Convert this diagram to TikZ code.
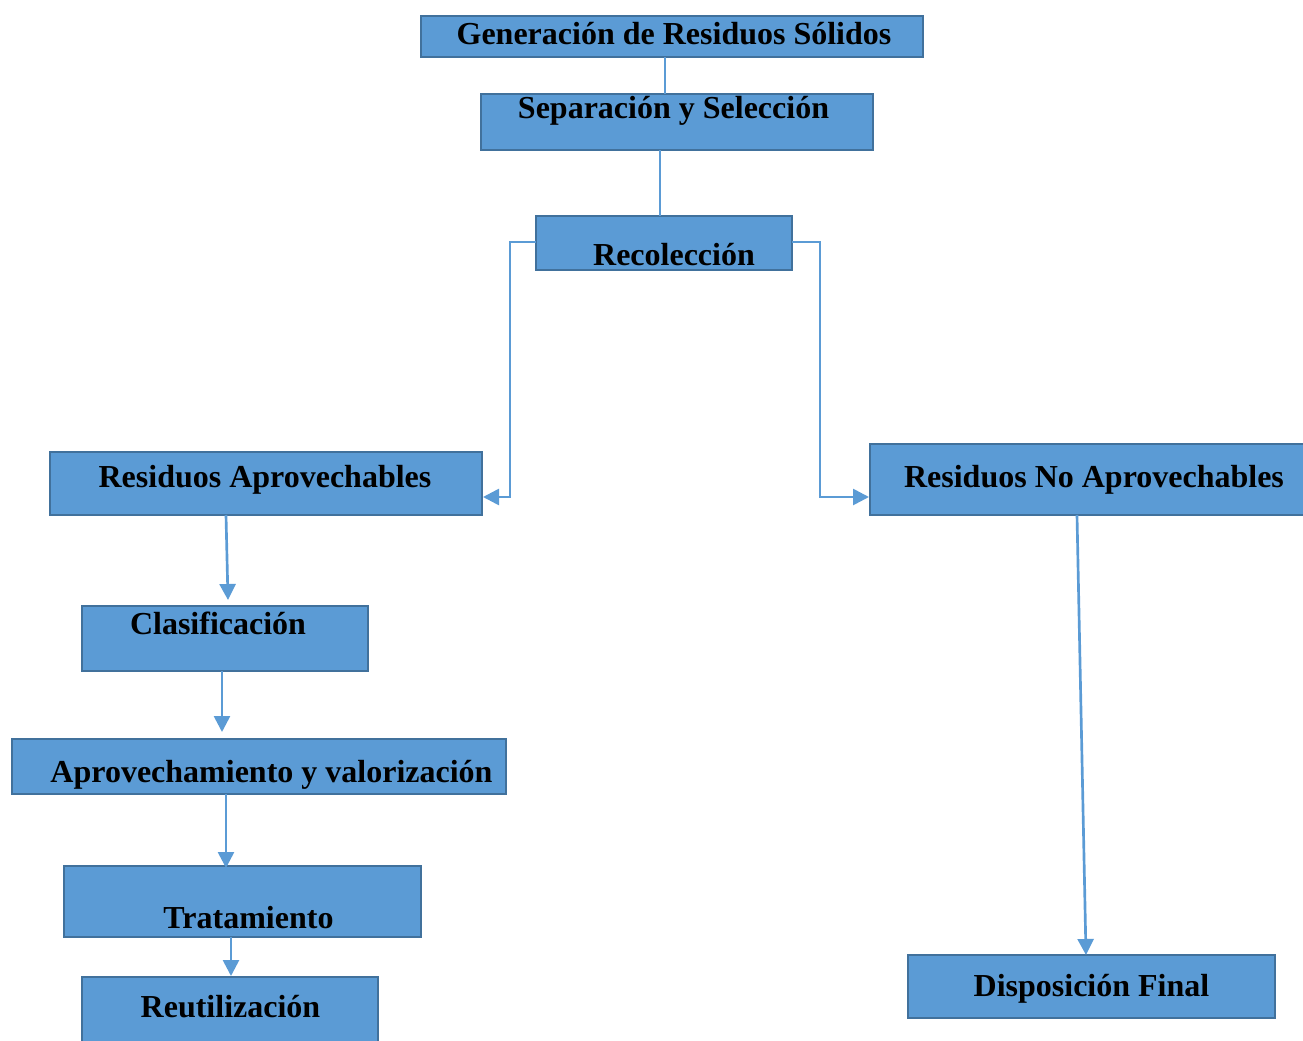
\documentclass[tikz,border=0pt]{standalone}
\usepackage{fontspec}
\setmainfont{Liberation Serif}
\usetikzlibrary{fit,arrows.meta}
\definecolor{boxfill}{HTML}{5B9BD5}
\definecolor{boxdraw}{HTML}{41719C}
\definecolor{linec}{HTML}{5B9BD5}
\tikzset{
  box/.style={draw=boxdraw, fill=boxfill, line width=1.5pt, inner sep=0pt, rectangle},
  txt/.style={anchor=base, inner sep=0pt, font=\fontsize{24pt}{28pt}\selectfont\bfseries},
  thin link/.style={draw=linec, line width=1pt},
  arrow link/.style={draw=linec, line width=2pt, -{Triangle[length=12pt,width=12pt]}},
}
\begin{document}
\begin{tikzpicture}[x=0.75pt,y=-0.75pt]
\useasboundingbox (0,0) rectangle (1303,1041);
% boxes
\node[box, fit={(421,16)(923,57)}] (gen) {};
\node[box, fit={(481,94)(873,150)}] (sep) {};
\node[box, fit={(536,216)(792,270)}] (rec) {};
\node[box, fit={(50,452)(482,515)}] (ra) {};
\node[box, fit={(870,444)(1310,515)}] (rna) {};
\node[box, fit={(82,606)(368,671)}] (cla) {};
\node[box, fit={(12,739)(506,794)}] (apr) {};
\node[box, fit={(64,866)(421,937)}] (tra) {};
\node[box, fit={(82,977)(378,1050)}] (reu) {};
\node[box, fit={(908,955)(1275,1018)}] (dis) {};
% texts
\node[txt] (genT) at (674,45) {Generación de Residuos Sólidos};
\node[txt] (sepT) at (673.5,119) {Separación y Selección};
\node[txt] (recT) at (674,266) {Recolección};
\node[txt] (raT) at (265,487) {Residuos Aprovechables};
\node[txt] (rnaT) at (1094,487) {Residuos No Aprovechables};
\node[txt] (claT) at (218,634) {Clasificación};
\node[txt] (aprT) at (271.5,782) {Aprovechamiento y valorización};
\node[txt] (traT) at (248.5,928) {Tratamiento};
\node[txt] (reuT) at (230.5,1017) {Reutilización};
\node[txt] (disT) at (1091.5,996) {Disposición Final};
% connectors
\coordinate (g1) at (665,57);
\coordinate (s1) at (665,94);
\draw[thin link] (g1) -- (s1);
\coordinate (s2) at (660,150);
\coordinate (r0) at (660,216);
\draw[thin link] (s2) -- (r0);
\coordinate (rl) at (536,242);
\coordinate (ral) at (483,497);
\draw[arrow link] (rl) -- (510,242) -- (510,497) -- (ral);
\coordinate (rr) at (792,242);
\coordinate (rnal) at (869,497);
\draw[arrow link] (rr) -- (820,242) -- (820,497) -- (rnal);
\draw[arrow link] (226,515) -- (228,600);
\draw[arrow link] (222,671) -- (222,732);
\draw[arrow link] (226,794) -- (226,868);
\draw[arrow link] (231,937) -- (231,976);
\draw[arrow link] (1077,515) -- (1086,955);
\end{tikzpicture}
\end{document}
